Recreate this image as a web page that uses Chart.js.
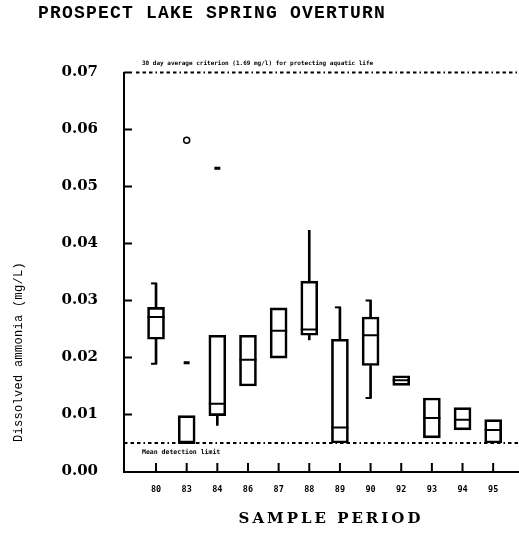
<!DOCTYPE html>
<html>
<head>
<meta charset="utf-8">
<script src="https://cdn.jsdelivr.net/npm/chart.js@4/dist/chart.umd.min.js"></script>
<style>
  html, body { margin: 0; padding: 0; background: #fff; }
  canvas { display: block; }
</style>
</head>
<body>
<canvas id="overturnChart" width="519" height="533"></canvas>
<script>
// Sample periods (years) along the bottom axis
const categories = ['80', '83', '84', '86', '87', '88', '89', '90', '92', '93', '94', '95'];

// Box plot statistics, dissolved ammonia in mg/L
const whiskerLow    = [0.0189, null, 0.0081, null, null, 0.0231, null, 0.0129, null, null, null, null];
const lowerQuartile = [0.0232, 0.0050, 0.0098, 0.0150, 0.0199, 0.0239, 0.0050, 0.0186, 0.0151, 0.0059, 0.0073, 0.0050];
const medians       = [0.0271, 0.0050, 0.0119, 0.0196, 0.0247, 0.0249, 0.0077, 0.0239, 0.0160, 0.0094, 0.0091, 0.0073];
const upperQuartile = [0.0288, 0.0098, 0.0239, 0.0239, 0.0287, 0.0334, 0.0232, 0.0271, 0.0168, 0.0129, 0.0112, 0.0091];
const whiskerHigh   = [0.0330, null, null, null, null, 0.0423, 0.0288, 0.0300, null, null, null, null];

// which whisker ends get a small cap
const capLow  = [true, false, false, false, false, false, false, true, false, false, false, false];
const capHigh = [true, false, false, false, false, false, true, true, false, false, false, false];

// outside values (dashes) and far-out values (circles)
const outsideValues = [null, 0.0191, 0.0532, null, null, null, null, null, null, null, null, null];
const farOutValues  = [null, 0.0581, null, null, null, null, null, null, null, null, null, null];

// reference lines
const criterionLevel = 0.07;
const detectionLimit = 0.005;

const yTickStep = 0.01;

const pick = (arr, fn) => arr.map((v, i) => (v === null ? null : fn(v, i))).filter(p => p !== null);

const boxData = categories.map((c, i) => ({ x: i + 1, y: [lowerQuartile[i], upperQuartile[i]] }));
const lowWhiskerData = pick(whiskerLow, (v, i) => ({ x: i + 1, y: [v, lowerQuartile[i]] }));
const highWhiskerData = pick(whiskerHigh, (v, i) => ({ x: i + 1, y: [upperQuartile[i], v] }));
const medianData = medians.map((v, i) => ({ x: i + 1, y: v }));
const outsideData = pick(outsideValues, (v, i) => ({ x: i + 1, y: v }));
const farOutData = pick(farOutValues, (v, i) => ({ x: i + 1, y: v }));

function strokeLine(ctx, x1, y1, x2, y2) {
    ctx.beginPath();
    ctx.moveTo(x1, y1);
    ctx.lineTo(x2, y2);
    ctx.stroke();
}

// same snapping Chart.js uses for a 2px axis border
const snap = px => Math.round(px - 1) + 1;

// inward tick marks, whisker caps, reference lines and all the free text
const boxPlotExtras = {
    id: 'boxPlotExtras',
    afterDatasetsDraw(chart) {
        const { ctx, chartArea: area, scales: { x, y } } = chart;
        const edge = chart.width;
        ctx.save();
        ctx.strokeStyle = '#000';
        ctx.lineWidth = 2;

        // bottom axis runs on to the canvas edge
        const baseY = snap(area.bottom);
        strokeLine(ctx, area.right - 2, baseY, edge, baseY);

        y.ticks.forEach(t => {
            if (t.value < 1e-9) return;
            const py = y.getPixelForValue(t.value);
            strokeLine(ctx, area.left, py, area.left + 8, py);
        });
        x.ticks.forEach(t => {
            const px = x.getPixelForValue(t.value);
            strokeLine(ctx, px, baseY, px, baseY - 9);
        });

        categories.forEach((c, i) => {
            const px = x.getPixelForValue(i + 1);
            if (capLow[i] && whiskerLow[i] !== null) {
                const py = y.getPixelForValue(whiskerLow[i]);
                strokeLine(ctx, px - 5, py, px + 1, py);
            }
            if (capHigh[i] && whiskerHigh[i] !== null) {
                const py = y.getPixelForValue(whiskerHigh[i]);
                strokeLine(ctx, px - 5, py, px + 1, py);
            }
        });

        ctx.lineWidth = 2;
        ctx.setLineDash([3.5, 3, 3.5, 3, 3.5, 3, 1.5, 3]);
        const topY = y.getPixelForValue(criterionLevel);
        strokeLine(ctx, area.left + 12, topY, edge, topY);
        const dlY = y.getPixelForValue(detectionLimit);
        strokeLine(ctx, area.left, dlY, edge, dlY);
        ctx.setLineDash([]);

        ctx.fillStyle = '#000';
        ctx.textBaseline = 'middle';
        ctx.textAlign = 'left';
        ctx.font = 'bold 6px "DejaVu Sans Mono"';
        ctx.letterSpacing = '0px';
        ctx.fillText('30 day average criterion (1.69 mg/l) for protecting aquatic life', 142, topY - 9);
        ctx.font = 'bold 6.5px "DejaVu Sans Mono"';
        ctx.fillText('Mean detection limit', 142, dlY + 9.5);

        ctx.restore();
    },
    afterDraw(chart) {
        const { ctx } = chart;
        ctx.save();
        ctx.fillStyle = '#000';

        ctx.font = 'bold 18px "Liberation Mono"';
        ctx.letterSpacing = '1.2px';
        ctx.textAlign = 'left';
        ctx.textBaseline = 'alphabetic';
        ctx.fillText('PROSPECT LAKE SPRING OVERTURN', 38, 18);

        ctx.font = 'bold 15px "DejaVu Serif"';
        ctx.letterSpacing = '3px';
        ctx.textAlign = 'center';
        ctx.textBaseline = 'middle';
        ctx.fillText('SAMPLE PERIOD', 331, 519);

        ctx.translate(19, 352);
        ctx.rotate(-Math.PI / 2);
        ctx.font = '12px "Liberation Mono"';
        ctx.letterSpacing = '0.3px';
        ctx.fillText('Dissolved ammonia (mg/L)', 0, 0);
        ctx.restore();
    }
};

new Chart(document.getElementById('overturnChart'), {
    type: 'bar',
    data: {
        datasets: [
            {
                label: 'Lower whisker',
                data: lowWhiskerData,
                backgroundColor: '#000',
                borderWidth: 0,
                barThickness: 2,
                grouped: false
            },
            {
                label: 'Upper whisker',
                data: highWhiskerData,
                backgroundColor: '#000',
                borderWidth: 0,
                barThickness: 2,
                grouped: false
            },
            {
                label: 'Interquartile range',
                data: boxData,
                backgroundColor: 'rgba(255, 255, 255, 0)',
                borderColor: '#000',
                borderWidth: 2,
                borderSkipped: false,
                barThickness: 17,
                grouped: false
            },
            {
                type: 'scatter',
                label: 'Median',
                data: medianData,
                pointStyle: 'line',
                radius: 8.5,
                borderColor: '#000',
                borderWidth: 2
            },
            {
                type: 'scatter',
                label: 'Outside values',
                data: outsideData,
                pointStyle: 'line',
                radius: 3,
                borderColor: '#000',
                borderWidth: 3
            },
            {
                type: 'scatter',
                label: 'Far out values',
                data: farOutData,
                pointStyle: 'circle',
                radius: 3,
                backgroundColor: '#fff',
                borderColor: '#000',
                borderWidth: 1.5
            }
        ]
    },
    options: {
        responsive: false,
        animation: false,
        layout: {
            padding: { top: 72.5, left: 0, right: 0, bottom: 0 }
        },
        plugins: {
            legend: { display: false },
            title: { display: false },
            tooltip: { enabled: false }
        },
        scales: {
            x: {
                type: 'linear',
                min: -0.045,
                max: 12.5,
                offset: false,
                afterBuildTicks: scale => {
                    scale.ticks = categories.map((c, i) => ({ value: i + 1 }));
                },
                afterFit: scale => {
                    scale.height = 61.5;
                    scale.paddingLeft = 0;
                    scale.paddingRight = 0;
                },
                ticks: {
                    autoSkip: false,
                    maxRotation: 0,
                    padding: 13,
                    color: '#000',
                    font: { family: '"DejaVu Sans Mono"', size: 8.5, weight: 'bold' },
                    callback: value => categories[value - 1]
                },
                grid: { drawOnChartArea: false, drawTicks: false },
                border: { display: true, color: '#000', width: 2 }
            },
            y: {
                min: 0,
                max: criterionLevel,
                afterFit: scale => { scale.width = 124; },
                ticks: {
                    stepSize: yTickStep,
                    padding: 26,
                    color: '#000',
                    font: { family: '"DejaVu Serif"', size: 15, weight: 'bold' },
                    callback: value => value.toFixed(2)
                },
                grid: { drawOnChartArea: false, drawTicks: false },
                border: { display: true, color: '#000', width: 2 }
            }
        }
    },
    plugins: [boxPlotExtras]
});
</script>
</body>
</html>
